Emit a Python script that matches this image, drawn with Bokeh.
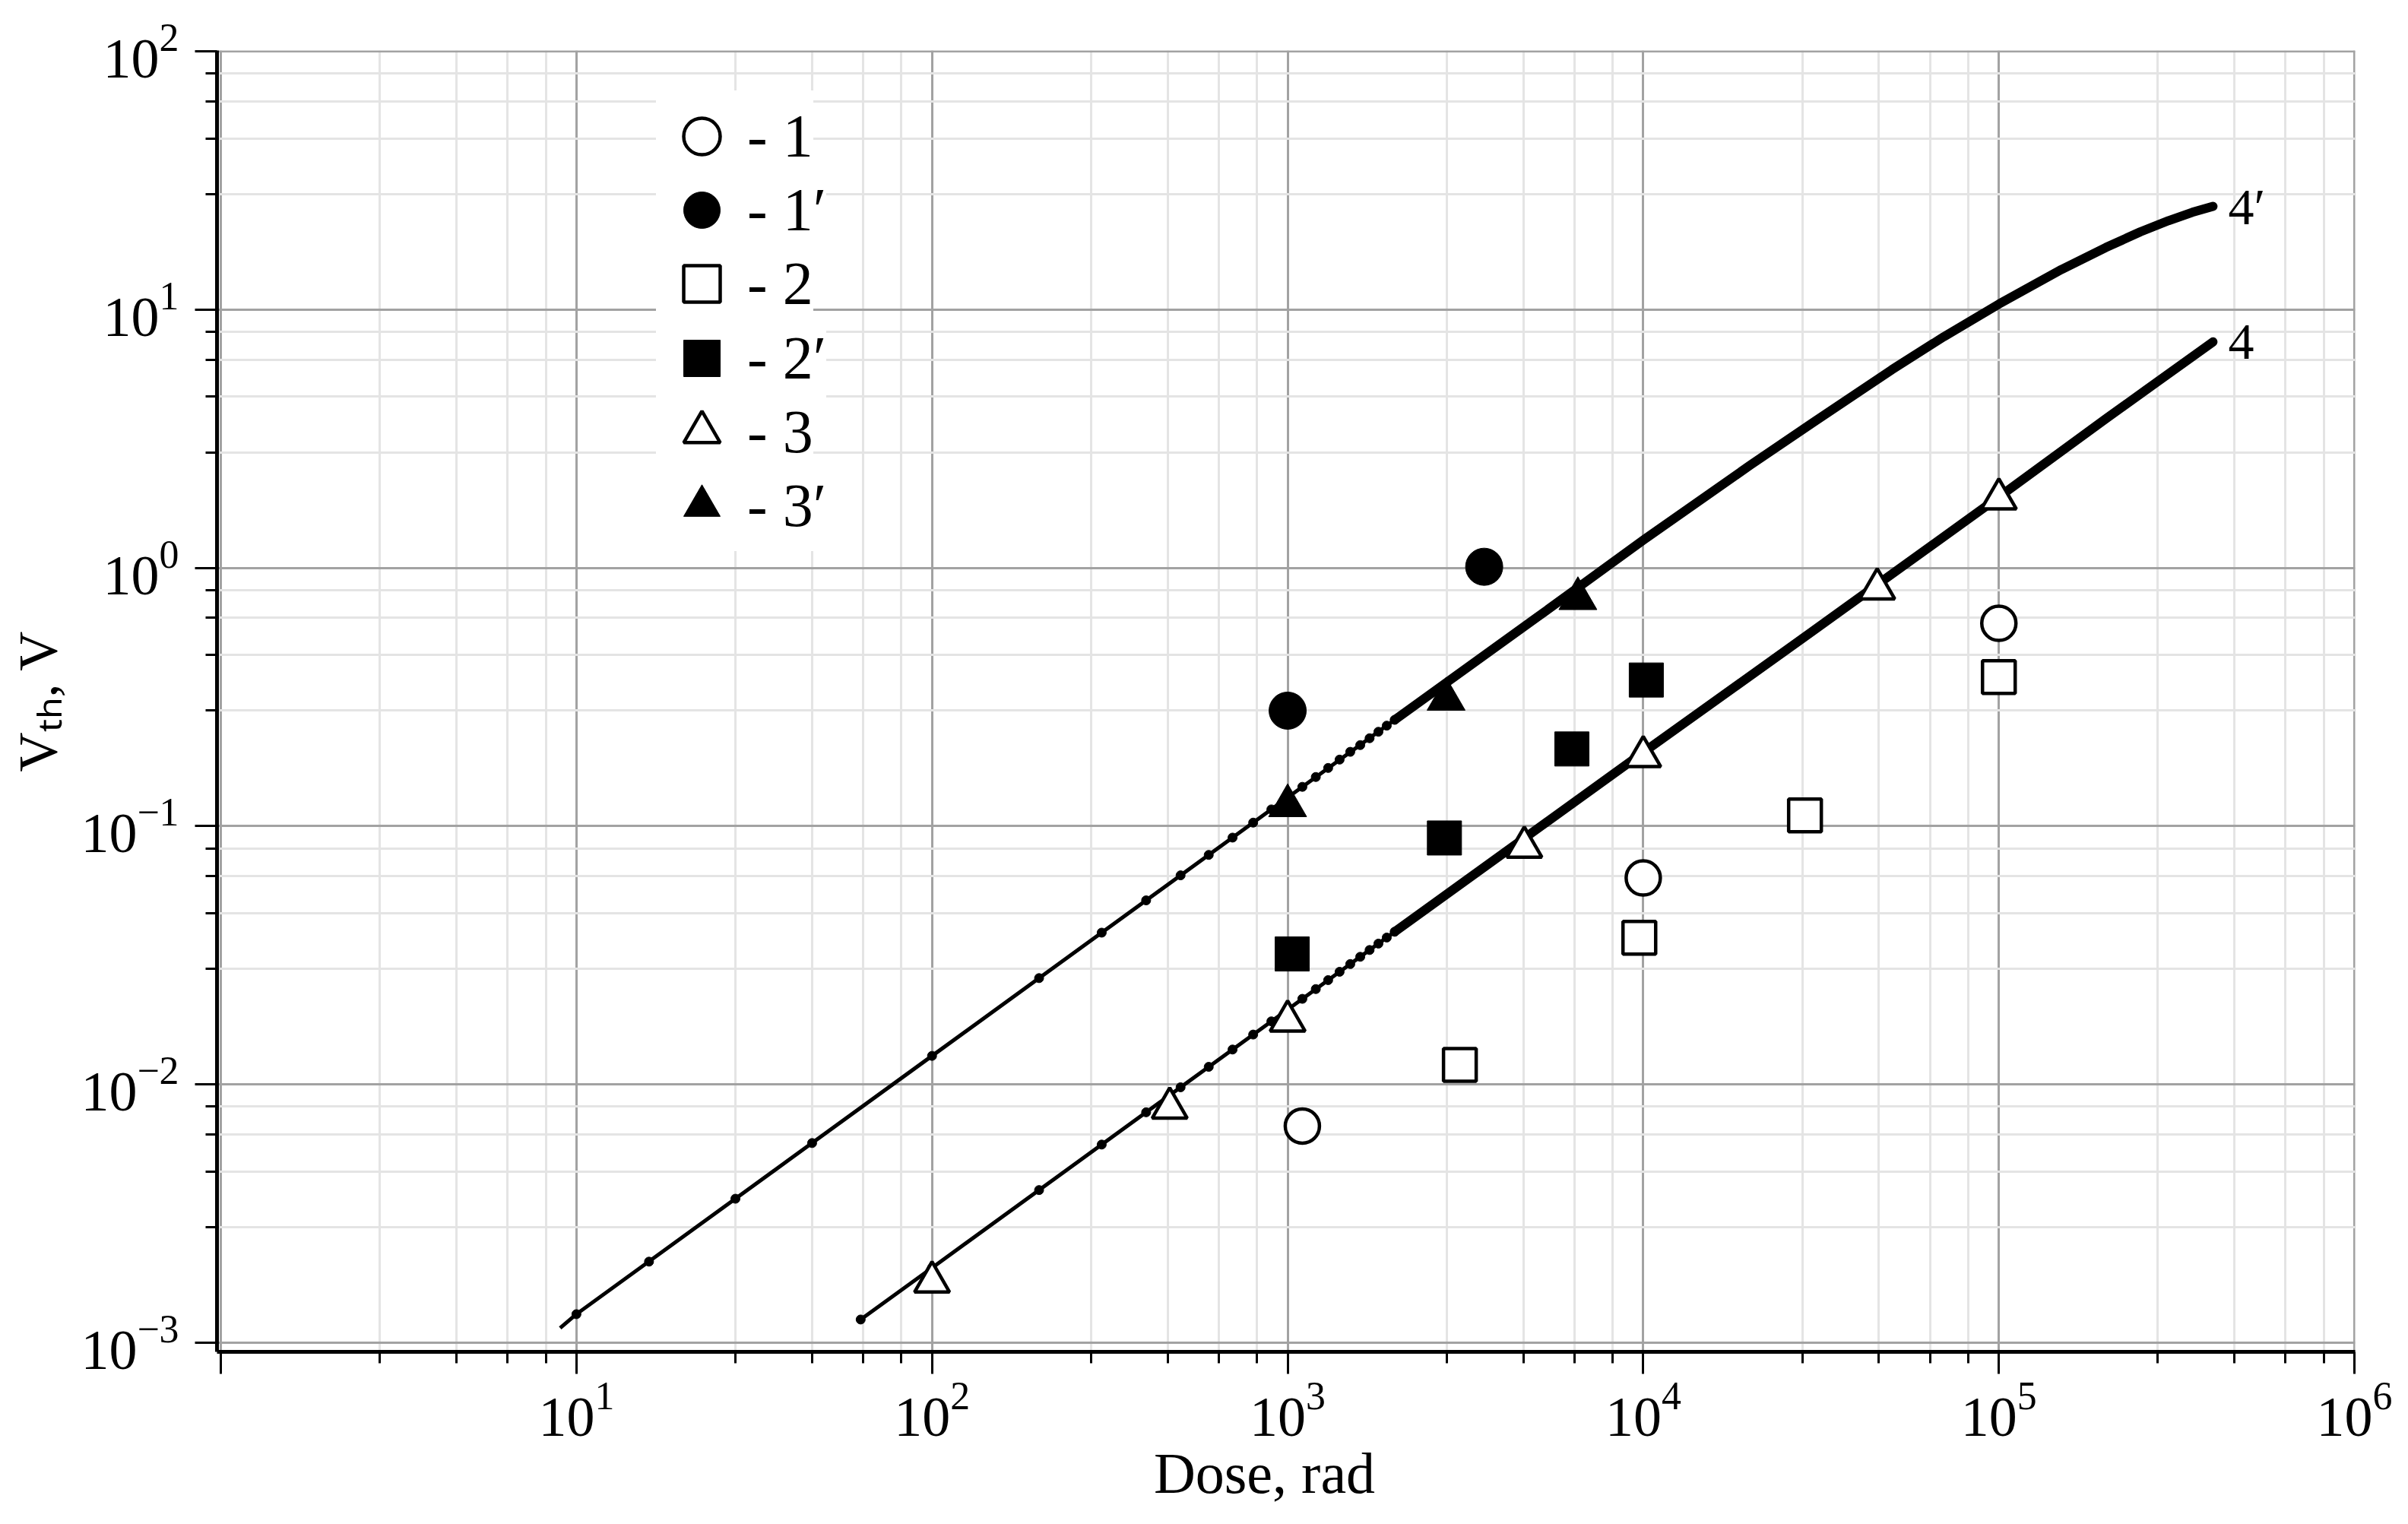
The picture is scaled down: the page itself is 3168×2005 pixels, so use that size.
from bokeh.plotting import figure
from bokeh.models import Range1d, FixedTicker, Legend, LegendItem
from bokeh.core.properties import value
from bokeh.embed import file_html
from bokeh.resources import INLINE

# ---------------- data ----------------
# measured series
s1_x = [1100, 1.0e4, 1.0e5]
s1_y = [0.0069, 0.063, 0.61]
s1p_x = [1000, 3570]
s1p_y = [0.28, 1.01]
s2_x = [3050, 9750, 28500, 1.0e5]
s2_y = [0.0119, 0.037, 0.110, 0.378]
s2p_x = [1030, 2760, 6300, 10200]
s2p_y = [0.032, 0.090, 0.199, 0.368]
s3_x = [100, 466, 1000, 4630, 1.0e4, 45500, 1.0e5]
s3_y = [0.00172, 0.0081, 0.0176, 0.083, 0.186, 0.83, 1.85]
s3p_x = [1000, 2790, 6550]
s3p_y = [0.12, 0.31, 0.76]

# calculated curves 4' and 4
c4p_x = [9, 10, 100, 1000, 2000, 5000, 1.0e4, 2.0e4, 3.0e4, 5.0e4, 7.0e4, 1.0e5,
         1.5e5, 2.0e5, 2.5e5, 3.0e5, 3.5e5, 4.0e5]
c4p_y = [0.00114, 0.00129, 0.0129, 0.129, 0.258, 0.64, 1.28, 2.5, 3.65, 5.85, 7.85, 10.5,
         14.3, 17.4, 20.0, 22.1, 23.8, 25.1]
c4_x = [63, 100, 1000, 2000, 1.0e4, 3.0e4, 1.0e5, 2.0e5, 4.0e5]
c4_y = [0.00123, 0.00195, 0.0195, 0.039, 0.193, 0.57, 1.88, 3.78, 7.5]

# sample points (dots) visible along the curves
d4p_x = [10, 16, 28, 46, 100, 200, 300, 400, 500, 600, 700, 800, 900, 1000,
         1100, 1200, 1300, 1400, 1500, 1600, 1700, 1800, 1900, 2000]
d4p_y = [0.00129, 0.00206, 0.00361, 0.00593, 0.0129, 0.0258, 0.0387, 0.0516, 0.0645,
         0.0774, 0.0903, 0.1032, 0.1161, 0.129, 0.142, 0.155, 0.168, 0.181, 0.194,
         0.206, 0.219, 0.232, 0.245, 0.258]
d4_x = [63, 100, 200, 300, 400, 500, 600, 700, 800, 900, 1000,
        1100, 1200, 1300, 1400, 1500, 1600, 1700, 1800, 1900, 2000]
d4_y = [0.00123, 0.00195, 0.0039, 0.00585, 0.0078, 0.00975, 0.0117, 0.01365, 0.0156,
        0.01755, 0.0195, 0.02145, 0.0234, 0.02535, 0.0273, 0.02925, 0.0312, 0.03315,
        0.0351, 0.03705, 0.039]

curve_labels = ["4\u2032", "4"]
legend_labels = ["- 1", "- 1\u2032", "- 2", "- 2\u2032", "- 3", "- 3\u2032"]
x_label = "Dose, rad"
y_label = "V\u209c\u2095, V"

minor_mult = [2.8, 4.6, 6.4, 8.2]

# ---------------- figure ----------------
FONT = "Liberation Serif"
NB = "\u00a0"
x_range = Range1d(10 ** -0.0107, 10 ** 6.002)
y_range = Range1d(10 ** -3.0353, 10 ** 2.003)

p = figure(width=3160, height=2003, x_axis_type="log", y_axis_type="log",
           x_range=x_range, y_range=y_range, output_backend="svg",
           toolbar_location=None, min_border_left=285, min_border_right=62,
           min_border_top=66, min_border_bottom=225)
p.outline_line_color = None
p.background_fill_color = "white"
p.border_fill_color = "white"

x_major = [10.0 ** k for k in range(0, 7)]
x_minor = [m * 10.0 ** k for k in range(0, 6) for m in minor_mult]
y_major = [10.0 ** k for k in range(-3, 3)]
y_minor = [m * 10.0 ** k for k in range(-3, 2) for m in minor_mult]
xt = FixedTicker(ticks=x_major, minor_ticks=x_minor)
yt = FixedTicker(ticks=y_major, minor_ticks=y_minor)
p.xaxis.ticker = xt
p.yaxis.ticker = yt
p.xgrid.ticker = xt
p.ygrid.ticker = yt
p.xaxis.major_label_overrides = {1.0: ""}

for g in (p.xgrid, p.ygrid):
    g.grid_line_color = "#a2a2a2"
    g.grid_line_width = 3
    g.minor_grid_line_color = "#e4e4e4"
    g.minor_grid_line_width = 3

for ax in (p.xaxis, p.yaxis):
    ax.axis_line_color = "black"
    ax.axis_line_width = 5
    ax.major_tick_line_color = "black"
    ax.major_tick_line_width = 3
    ax.minor_tick_line_color = "black"
    ax.minor_tick_line_width = 3
    ax.major_tick_in = 0
    ax.minor_tick_in = 0
    ax.major_tick_out = 29
    ax.minor_tick_out = 15
    ax.major_label_text_font = FONT
    ax.major_label_text_font_size = "74px"
    ax.major_label_text_color = "black"
    ax.axis_label_text_font = FONT
    ax.axis_label_text_font_style = "normal"
    ax.axis_label_text_color = "black"

p.xaxis.major_label_standoff = 12
p.yaxis.major_label_standoff = 21
p.xaxis.axis_label = x_label + NB * 3
p.yaxis.axis_label = y_label
p.xaxis.axis_label_text_font_size = "76px"
p.yaxis.axis_label_text_font_size = "72px"
p.xaxis.axis_label_standoff = 4
p.yaxis.axis_label_standoff = 13

# curves
thin_w = 5
thick_w = 12
p.line(c4p_x, c4p_y, line_color="black", line_width=thin_w)
p.line(c4_x, c4_y, line_color="black", line_width=thin_w)
k4p = [i for i, v in enumerate(c4p_x) if v >= 2000]
k4 = [i for i, v in enumerate(c4_x) if v >= 2000]
p.line([c4p_x[i] for i in k4p], [c4p_y[i] for i in k4p], line_color="black",
       line_width=thick_w, line_cap="round", line_join="round")
p.line([c4_x[i] for i in k4], [c4_y[i] for i in k4], line_color="black",
       line_width=thick_w, line_cap="round", line_join="round")
p.scatter(d4p_x, d4p_y, marker="circle", size=12, color="black")
p.scatter(d4_x, d4_y, marker="circle", size=12, color="black")

p.text(x=[c4p_x[-1], c4_x[-1]], y=[c4p_y[-1], c4_y[-1]], text=curve_labels,
       x_offset=20, text_align="left", text_baseline="middle",
       text_font=value(FONT), text_font_size="68px", text_color="black")

# measured markers
lw = 4.5
r1 = p.scatter(s1_x, s1_y, marker="circle", size=45, fill_color="white",
               line_color="black", line_width=lw)
r1p = p.scatter(s1p_x, s1p_y, marker="circle", size=49, fill_color="black",
                line_color="black", line_width=1)
r2 = p.scatter(s2_x, s2_y, marker="square", size=43, fill_color="white",
               line_color="black", line_width=lw)
r2p = p.scatter(s2p_x, s2p_y, marker="square", size=45, fill_color="black",
                line_color="black", line_width=1)
r3 = p.scatter(s3_x, s3_y, marker="triangle", size=46, fill_color="white",
               line_color="black", line_width=lw)
r3p = p.scatter(s3p_x, s3p_y, marker="triangle", size=50, fill_color="black",
                line_color="black", line_width=1)

# legend: one entry per row so the marker box can be larger than the row pitch
row_pitch = 97.2
for i, (lab, r) in enumerate(zip(legend_labels, [r1, r1p, r2, r2p, r3, r3p])):
    lg = Legend(items=[LegendItem(label=lab, renderers=[r])],
                location=(578, int(round(1539 - row_pitch * i))),
                glyph_width=120, glyph_height=120, label_height=120,
                label_standoff=0, spacing=0, padding=0, margin=0,
                border_line_color=None, background_fill_color="white",
                background_fill_alpha=1.0,
                label_text_font=FONT, label_text_font_size="80px",
                label_text_color="black", label_text_baseline="middle")
    p.add_layout(lg)

open("out.html", "w").write(file_html(p, INLINE))
